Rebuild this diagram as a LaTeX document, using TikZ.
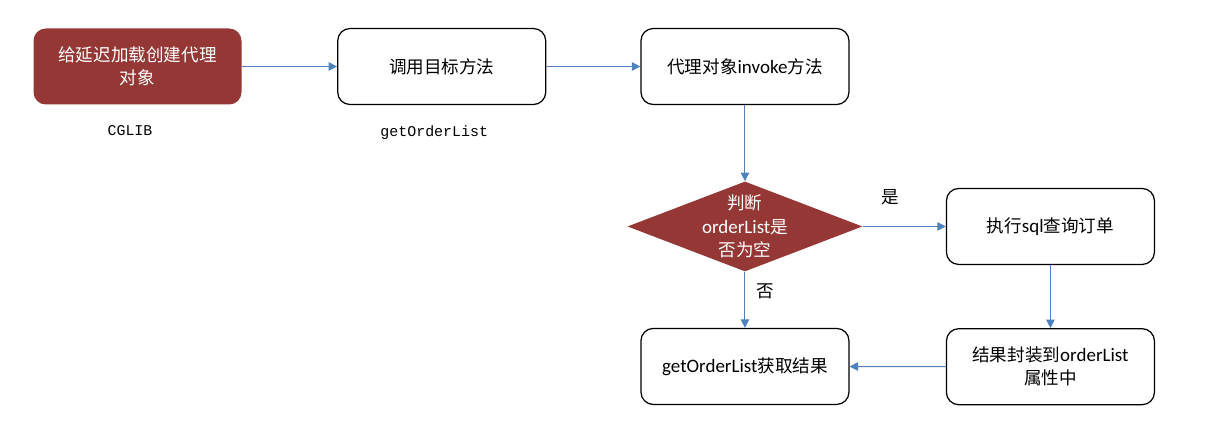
\documentclass[tikz,border=0pt]{standalone}
\usepackage{fontspec}
\setmainfont{Carlito}[Scale=1.08]
\setmonofont{Liberation Mono}
\newfontfamily\cjk{Noto Sans CJK SC}
\usetikzlibrary{arrows.meta,positioning,shapes.geometric}
\definecolor{Brick}{HTML}{953735}
\definecolor{Wire}{HTML}{4F81BD}
\tikzset{proc/.style={rounded corners=7pt,draw=black,line width=.7pt,fill=white,minimum width=4.16cm,minimum height=1.52cm,align=center,font=\fontsize{10}{13}\selectfont},key/.style={proc,draw=none,fill=Brick,text=white},choice/.style={diamond,draw=none,fill=Brick,minimum width=4.7cm,minimum height=1.8cm,inner sep=0pt},choicetext/.style={text=white,align=center,inner sep=0pt,font=\fontsize{10}{13.5}\selectfont},flow/.style={-{Triangle[length=1.7mm,width=1.7mm]},line width=.6pt,draw=Wire},note/.style={font=\ttfamily\fontsize{8.5}{10}\selectfont}}

\begin{document}
\begin{tikzpicture}[every node/.style={font=\fontsize{10}{13}\selectfont}]
      \useasboundingbox (0,0) rectangle (24.12,-8.46);
      \node[key](proxyinit) at (2.75,-1.33){{\cjk 给延迟加载创建代理}\\{\cjk 对象}};
      \node[proc,right=1.9cm of proxyinit](call){\cjk 调用目标方法};
      \node[proc,right=1.88cm of call](invoke){{\cjk 代理对象}invoke{\cjk 方法}};
      \node[choice,below=1.52cm of invoke](check){};
      \node[choicetext](checktext) at (check.center){{\cjk 判断}\\orderList{\cjk 是}\\{\cjk 否为空}};
      \node[proc,right=1.66cm of check](query){{\cjk 执行}sql{\cjk 查询订单}};
      \node[proc,below=1.26cm of query](fill){{\cjk 结果封装到}orderList\\{\cjk 属性中}};
      \node[proc,below=1.12cm of check](result){getOrderList{\cjk 获取结果}};
      \node[note,below=.28cm of proxyinit,xshift=-.15cm](cglib){CGLIB};
      \node[note,below=.28cm of call,xshift=-.15cm](method){getOrderList};
      \draw[flow](proxyinit)--(call);\draw[flow](call)--(invoke);
      \draw[flow](invoke)--(check);
      \draw[flow](check)--node[pos=.33,yshift=.58cm]{\cjk 是}(query);
      \draw[flow](check)--node[pos=.34,xshift=.4cm]{\cjk 否}(result);
      \draw[flow](query)--(fill);
      \draw[flow](fill)--(result);
    \end{tikzpicture}
\end{document}
